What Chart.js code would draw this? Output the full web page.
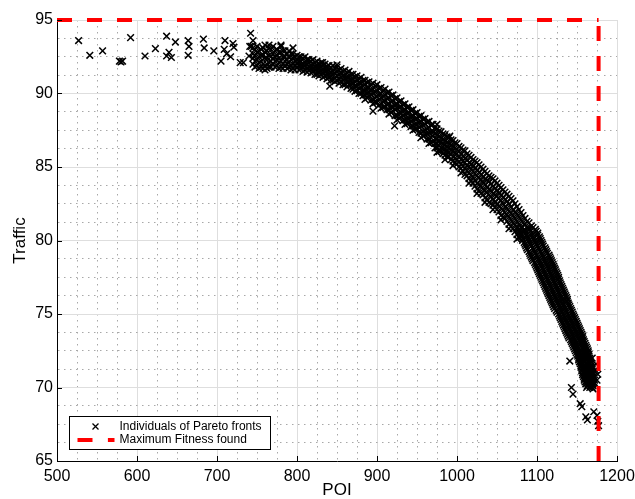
<!DOCTYPE html>
<html>
<head>
<meta charset="utf-8">
<script src="https://cdn.jsdelivr.net/npm/chart.js@4.4.1/dist/chart.umd.min.js"></script>
<style>
  html, body { margin: 0; padding: 0; background: #fff; }
  #chart { display: block; }
</style>
</head>
<body>
<canvas id="chart" width="635" height="499"></canvas>
<script>
// Scattered individuals on the far left of the front [POI, Traffic]
const sparsePoints = [
  [527, 93.6], [541, 92.6], [557, 92.9], [578, 92.2], [580, 92.15], [582, 92.2],
  [592, 93.8], [610, 92.55], [623, 93.05], [637, 93.9], [648, 93.5], [637, 92.55],
  [640, 92.8], [643, 92.45], [664, 93.6], [665, 93.2], [664, 92.6], [683, 93.7],
  [684, 93.1], [696, 92.9], [710, 93.6], [709, 93.0], [712, 92.7], [717, 92.5],
  [705, 92.2], [720, 93.4], [721, 93.15], [729, 92.1], [742, 94.1], [741, 93.2],
  [740, 92.55], [733, 92.1], [745, 93.6], [743, 93.2], [760, 91.6]
];

// Dense part of the front, read column by column: [POI, [Traffic...]]
const frontColumns = [
  [745, [93.1, 92.7, 92.4, 92.0]], [747.5, [93.0, 92.6, 92.2, 91.8]],
  [750, [93.2, 92.8, 92.3, 91.9]], [752.5, [92.9, 92.5, 92.1, 91.7]],
  [755, [93.0, 92.6, 92.2, 91.8]], [757.5, [93.1, 92.6, 92.0, 91.7]],
  [760, [93.3, 92.8, 92.4, 91.9]], [762.5, [92.9, 92.4, 92.0, 91.7]],
  [765, [93.1, 92.6, 92.1, 91.8]], [767.5, [93.0, 92.5, 92.2, 91.8]],
  [770, [93.2, 92.7, 92.4, 92.0]], [772.5, [92.9, 92.5, 92.2, 91.8]],
  [775, [93.0, 92.6, 92.3, 91.9]], [777.5, [92.8, 92.4, 92.1, 91.7]],
  [780, [93.2, 92.8, 92.2, 91.8]], [782.5, [92.9, 92.5, 92.0, 91.7]],
  [785, [92.9, 92.5, 92.2, 91.9]], [787.5, [92.7, 92.3, 92.0, 91.7]],
  [790, [92.9, 92.5, 92.1, 91.8]], [792.5, [92.7, 92.3, 91.9, 91.6]],
  [795, [92.7, 92.4, 92.0, 91.7]], [797.5, [92.5, 92.2, 91.9, 91.6]],
  [800, [92.6, 92.3, 92.1, 91.8]], [802.5, [92.5, 92.15, 91.9, 91.6]],
  [805, [92.5, 92.2, 91.9, 91.7]], [807.5, [92.4, 92.0, 91.8, 91.5]],
  [810, [92.5, 92.1, 91.9, 91.6]], [812.5, [92.3, 92.0, 91.7, 91.45]],
  [815, [92.3, 92.1, 91.8, 91.6]], [817.5, [92.2, 91.9, 91.7, 91.4]],
  [820, [92.3, 92.0, 91.7, 91.5]], [822.5, [92.1, 91.85, 91.6, 91.3]],
  [825, [92.2, 91.9, 91.7, 91.3]], [827.5, [92.0, 91.75, 91.45, 91.2]],
  [830, [92.1, 91.8, 91.5, 91.3]], [832.5, [91.95, 91.65, 91.4, 91.1]],
  [835, [92.0, 91.7, 91.5, 91.2]], [837.5, [91.85, 91.55, 91.3, 91.0]],
  [840, [91.9, 91.6, 91.3, 91.1]], [842.5, [91.75, 91.45, 91.2, 90.9]],
  [845, [91.9, 91.5, 91.3, 90.9]], [847.5, [91.7, 91.4, 91.05, 90.8]],
  [850, [91.8, 91.5, 91.2, 90.9]], [852.5, [91.6, 91.3, 91.0, 90.7]],
  [855, [91.7, 91.4, 91.1, 90.8]], [857.5, [91.5, 91.2, 90.9, 90.6]],
  [860, [91.6, 91.2, 91.0, 90.6]], [862.5, [91.4, 91.1, 90.8, 90.45]],
  [865, [91.5, 91.1, 90.8, 90.6]], [867.5, [91.3, 90.95, 90.6, 90.35]],
  [870, [91.3, 91.0, 90.7, 90.3]], [872.5, [91.15, 90.8, 90.5, 90.15]],
  [875, [91.2, 90.9, 90.5, 90.2]], [877.5, [91.0, 90.7, 90.35, 90.0]],
  [880, [91.1, 90.7, 90.4, 90.0]], [882.5, [90.9, 90.5, 90.2, 89.85]],
  [885, [90.9, 90.6, 90.2, 89.9]], [887.5, [90.75, 90.4, 90.05, 89.7]],
  [890, [90.8, 90.4, 90.1, 89.8]], [892.5, [90.6, 90.25, 89.9, 89.55]],
  [895, [90.7, 90.3, 90.0, 89.6]], [897.5, [90.5, 90.1, 89.7, 89.4]],
  [900, [90.6, 90.2, 89.8, 89.4]], [902.5, [90.35, 89.95, 89.6, 89.2]],
  [905, [90.4, 90.0, 89.7, 89.3]], [907.5, [90.2, 89.8, 89.45, 89.05]],
  [910, [90.3, 89.9, 89.5, 89.1]], [912.5, [90.05, 89.65, 89.25, 88.9]],
  [915, [90.1, 89.7, 89.3, 88.9]], [917.5, [89.85, 89.45, 89.1, 88.7]],
  [920, [89.9, 89.5, 89.1, 88.8]], [922.5, [89.65, 89.25, 88.9, 88.5]],
  [925, [89.7, 89.3, 89.0, 88.5]], [927.5, [89.45, 89.05, 88.7, 88.3]],
  [930, [89.5, 89.1, 88.7, 88.4]], [932.5, [89.25, 88.85, 88.5, 88.15]],
  [935, [89.3, 88.9, 88.6, 88.2]], [937.5, [89.05, 88.65, 88.3, 87.95]],
  [940, [89.1, 88.7, 88.3, 88.0]], [942.5, [88.85, 88.45, 88.1, 87.75]],
  [945, [88.9, 88.5, 88.2, 87.8]], [947.5, [88.65, 88.25, 87.9, 87.55]],
  [950, [88.7, 88.3, 87.9, 87.6]], [952.5, [88.45, 88.05, 87.7, 87.35]],
  [955, [88.5, 88.1, 87.8, 87.3]], [957.5, [88.25, 87.85, 87.45, 87.1]],
  [960, [88.3, 87.9, 87.5, 87.2]], [962.5, [88.05, 87.6, 87.25, 86.9]],
  [965, [88.1, 87.7, 87.3, 86.9]], [967.5, [87.85, 87.4, 87.0, 86.65]],
  [970, [87.9, 87.4, 87.1, 86.7]], [972.5, [87.65, 87.3, 86.95, 86.6, 86.3]],
  [975, [87.6, 87.2, 86.9, 86.6, 86.3]], [977.5, [87.45, 87.1, 86.75, 86.45, 86.05]],
  [980, [87.4, 87.0, 86.7, 86.3, 86.1]], [982.5, [87.25, 86.9, 86.55, 86.2, 85.9]],
  [985, [87.2, 86.8, 86.5, 86.2, 85.8]], [987.5, [87.05, 86.7, 86.35, 86.05, 85.7]],
  [990, [87.0, 86.6, 86.3, 86.0, 85.7]], [992.5, [86.85, 86.5, 86.15, 85.85, 85.5]],
  [995, [86.8, 86.4, 86.1, 85.7, 85.4]], [997.5, [86.65, 86.3, 85.95, 85.6, 85.3]],
  [1000, [86.6, 86.2, 85.9, 85.5, 85.2]], [1002.5, [86.4, 86.05, 85.7, 85.35, 85.0]],
  [1005, [86.3, 85.9, 85.5, 85.2, 84.9]], [1007.5, [86.15, 85.75, 85.4, 85.05, 84.7]],
  [1010, [86.1, 85.6, 85.3, 84.9, 84.5]], [1012.5, [85.9, 85.5, 85.1, 84.75, 84.4]],
  [1015, [85.8, 85.3, 85.0, 84.6, 84.2]], [1017.5, [85.65, 85.2, 84.85, 84.45, 84.05]],
  [1020, [85.5, 85.1, 84.7, 84.3, 83.9]], [1022.5, [85.4, 84.95, 84.55, 84.1, 83.7]],
  [1025, [85.3, 84.8, 84.4, 83.9, 83.5]], [1027.5, [85.15, 84.65, 84.25, 83.8, 83.4]],
  [1030, [85.0, 84.5, 84.1, 83.7, 83.2]], [1032.5, [84.85, 84.35, 83.95, 83.5, 83.1]],
  [1035, [84.7, 84.2, 83.8, 83.4, 82.9]], [1037.5, [84.55, 84.1, 83.65, 83.25, 82.8]],
  [1040, [84.4, 84.0, 83.5, 83.1, 82.6]], [1042.5, [84.3, 83.85, 83.4, 82.95, 82.5]],
  [1045, [84.2, 83.7, 83.2, 82.8, 82.4]], [1047.5, [84.05, 83.55, 83.1, 82.65, 82.25]],
  [1050, [83.9, 83.4, 83.0, 82.5, 82.1]], [1052.5, [83.75, 83.25, 82.85, 82.35, 81.95]],
  [1055, [83.6, 83.1, 82.7, 82.2, 81.7]], [1057.5, [83.45, 82.95, 82.5, 82.05, 81.6]],
  [1060, [83.3, 82.8, 82.3, 81.9, 81.5]], [1062.5, [83.15, 82.65, 82.2, 81.75, 81.3]],
  [1065, [83.0, 82.5, 82.0, 81.6, 81.1]], [1067.5, [82.85, 82.3, 81.85, 81.4, 80.95]],
  [1070, [82.7, 82.1, 81.7, 81.2, 80.8]], [1072.5, [82.5, 81.95, 81.5, 81.05, 80.6]],
  [1075, [82.3, 81.8, 81.3, 80.9, 80.4]], [1077.5, [82.1, 81.6, 81.1, 80.65, 80.2]],
  [1080, [81.9, 81.4, 80.9, 80.4]], [1082.5, [81.7, 81.2, 80.6]],
  [1085, [81.5, 81.1, 80.7]], [1087.5, [81.3, 80.9]],
  [1090, [81.2, 80.8]], [1093, [81.0]]
];

// Lower edge of the front, where the band frays downward
const lowerFringe = [
  [885, 89.6], [895, 89.3], [905, 89.0], [915, 88.6], [925, 88.2], [935, 87.9],
  [945, 87.5], [955, 87.0], [965, 86.6], [975, 86.0], [985, 85.5], [995, 85.1],
  [1005, 84.6], [1015, 83.9], [1025, 83.2], [1035, 82.6], [1045, 82.1],
  [1055, 81.4], [1065, 80.8], [1075, 80.1]
];

// Steep part of the front, read row by row: [Traffic, [POI...]]
const steepRows = [
  [80.875, [1076, 1082, 1089, 1095]], [80.75, [1077, 1084, 1091, 1098]],
  [80.625, [1078, 1085, 1092, 1099]], [80.5, [1079, 1086, 1094, 1101]],
  [80.375, [1080, 1087, 1094, 1101]], [80.25, [1081, 1088, 1095, 1103]],
  [80.125, [1082, 1089, 1096, 1104]], [80.0, [1082, 1090, 1097, 1105]],
  [79.875, [1084, 1091, 1098, 1106]], [79.75, [1085, 1092, 1099, 1107]],
  [79.625, [1086, 1093, 1100, 1108]], [79.5, [1087, 1095, 1102, 1110]],
  [79.375, [1088, 1096, 1103, 1111]], [79.25, [1090, 1097, 1104, 1112]],
  [79.125, [1091, 1098, 1106, 1113]], [79.0, [1092, 1100, 1107, 1115]],
  [78.875, [1093, 1101, 1108, 1116]], [78.75, [1094, 1102, 1109, 1117]],
  [78.625, [1095, 1103, 1110, 1118]], [78.5, [1097, 1104, 1111, 1119]],
  [78.375, [1098, 1105, 1112, 1120]], [78.25, [1099, 1106, 1113, 1121]],
  [78.125, [1100, 1107, 1114, 1122]], [78.0, [1101, 1108, 1115, 1123]],
  [77.875, [1102, 1109, 1116, 1124]], [77.75, [1103, 1110, 1117, 1125]],
  [77.625, [1104, 1111, 1118, 1126]], [77.5, [1105, 1112, 1119, 1127]],
  [77.375, [1106, 1113, 1120, 1127]], [77.25, [1107, 1114, 1121, 1128]],
  [77.125, [1108, 1115, 1122, 1129]], [77.0, [1109, 1116, 1123, 1130]],
  [76.875, [1110, 1117, 1124, 1131]], [76.75, [1111, 1118, 1125, 1132]],
  [76.625, [1112, 1119, 1126, 1133]], [76.5, [1113, 1120, 1127, 1134]],
  [76.375, [1114, 1121, 1128, 1135]], [76.25, [1115, 1122, 1129, 1136]],
  [76.125, [1116, 1123, 1130, 1137]], [76.0, [1117, 1124, 1131, 1138]],
  [75.875, [1118, 1125, 1131, 1138]], [75.75, [1119, 1126, 1132, 1139]],
  [75.625, [1120, 1127, 1133, 1140]], [75.5, [1121, 1128, 1134, 1141]],
  [75.375, [1122, 1129, 1135, 1142]], [75.25, [1124, 1130, 1136, 1143]],
  [75.125, [1125, 1131, 1137, 1144]], [75.0, [1127, 1133, 1139, 1145]],
  [74.875, [1128, 1134, 1140, 1146]], [74.75, [1129, 1135, 1141, 1147]],
  [74.625, [1130, 1136, 1142, 1148]], [74.5, [1131, 1137, 1143, 1149]],
  [74.375, [1132, 1138, 1144, 1150]], [74.25, [1133, 1139, 1145, 1151]],
  [74.125, [1134, 1140, 1146, 1152]], [74.0, [1135, 1141, 1147, 1153]],
  [73.875, [1136, 1142, 1148, 1154]], [73.75, [1137, 1143, 1149, 1155]],
  [73.625, [1138, 1144, 1150, 1156]], [73.5, [1139, 1145, 1151, 1157]],
  [73.375, [1140, 1146, 1152, 1157]], [73.25, [1142, 1147, 1153, 1158]],
  [73.125, [1143, 1148, 1154, 1159]], [73.0, [1144, 1149, 1155, 1160]],
  [72.875, [1145, 1150, 1156, 1161]], [72.75, [1146, 1151, 1157, 1162]],
  [72.625, [1147, 1152, 1158, 1163]], [72.5, [1148, 1153, 1159, 1164]],
  [72.375, [1149, 1154, 1159, 1164]], [72.25, [1150, 1155, 1160, 1165]],
  [72.125, [1151, 1156, 1160, 1165]], [72.0, [1152, 1157, 1161, 1166]],
  [71.875, [1152, 1157, 1162, 1166]], [71.75, [1153, 1158, 1163, 1167]],
  [71.625, [1154, 1158, 1163, 1167]], [71.5, [1155, 1159, 1164, 1168]],
  [71.375, [1155, 1160, 1164, 1168]], [71.25, [1156, 1160, 1165, 1169]],
  [71.125, [1156, 1161, 1165, 1169]], [71.0, [1157, 1161, 1166, 1170]],
  [70.875, [1157, 1162, 1166, 1170]], [70.75, [1158, 1162, 1167, 1171]],
  [70.625, [1159, 1163, 1167, 1171]], [70.5, [1159, 1163, 1168, 1172]],
  [70.375, [1160, 1164, 1168, 1171]], [70.25, [1161, 1164, 1167, 1170]],
  [70.125, [1163, 1167, 1170]], [70.0, [1162, 1166, 1169]]
];

// Stray individuals off the main band
const strayPoints = [
  [832, 92.1], [850, 91.95], [841, 90.5], [895, 88.8], [922, 87.8], [975, 87.9],
  [991, 87.1], [780, 93.3], [765, 93.3], [795, 93.1],
  [1141, 71.8], [1143, 70.0], [1145, 69.55], [1154, 68.9], [1156, 68.7],
  [1161, 68.0], [1163, 67.8], [1171, 68.35], [1175, 68.1], [1176, 67.7],
  [1177, 67.4], [1176, 70.9], [1169, 72.0], [1163, 72.3], [1172, 70.3],
  [1174, 71.6], [1175, 70.5], [1173, 71.2], [1170, 69.9]
];

// Maximum fitness found
const maxPoi = 1177;
const maxTraffic = 95;

const xMin = 500, xMax = 1200, yMin = 65, yMax = 95;
const seriesLabels = ['Individuals of Pareto fronts', 'Maximum Fitness found'];

const fontFamily = '"Liberation Sans", Arial, Helvetica, sans-serif';

// Flatten everything into {x, y}
const paretoData = [];
sparsePoints.forEach(([x, y]) => paretoData.push({ x, y }));
frontColumns.forEach(([x, ys]) => ys.forEach((y) => paretoData.push({ x, y })));
lowerFringe.forEach(([x, y]) => paretoData.push({ x, y }));
steepRows.forEach(([y, xs]) => xs.forEach((x) => paretoData.push({ x, y })));
strayPoints.forEach(([x, y]) => paretoData.push({ x, y }));

// Red dashed bound: along the top, then a separate run up from the bottom
const maxData = [
  { x: xMin, y: maxTraffic },
  { x: maxPoi, y: maxTraffic },
  { x: maxPoi, y: null },
  { x: maxPoi, y: yMin },
  { x: maxPoi, y: maxTraffic },
];

const isMajorX = (v) => v % 100 === 0;
const isMajorY = (v) => Math.abs(v / 5 - Math.round(v / 5)) < 1e-6;

// MATLAB-ish inward ticks plus the legend box in the lower left
const extras = {
  id: 'extras',
  afterDraw(chart) {
    const ctx = chart.ctx;
    const area = chart.chartArea;
    const xs = chart.scales.x;
    const ys = chart.scales.y;
    ctx.save();
    ctx.strokeStyle = '#000';
    ctx.lineWidth = 1;
    ctx.beginPath();
    for (let v = xMin; v <= xMax; v += 100) {
      const px = Math.round(xs.getPixelForValue(v)) + 0.5;
      ctx.moveTo(px, area.bottom);
      ctx.lineTo(px, area.bottom - 5);
    }
    for (let v = yMin; v <= yMax; v += 5) {
      const py = Math.round(ys.getPixelForValue(v)) + 0.5;
      ctx.moveTo(area.left, py);
      ctx.lineTo(area.left + 5, py);
    }
    ctx.stroke();

    // legend
    const bx = area.left + 12.5, by = area.bottom - 44.5, bw = 201, bh = 33;
    ctx.fillStyle = '#fff';
    ctx.fillRect(bx, by, bw, bh);
    ctx.strokeRect(bx, by, bw, bh);

    const mx = bx + 26, my = by + 10;
    ctx.lineWidth = 1.3;
    ctx.beginPath();
    ctx.moveTo(mx - 3, my - 3); ctx.lineTo(mx + 3, my + 3);
    ctx.moveTo(mx + 3, my - 3); ctx.lineTo(mx - 3, my + 3);
    ctx.stroke();

    ctx.strokeStyle = '#ff0000';
    ctx.lineWidth = 4;
    ctx.setLineDash([15, 15.4]);
    ctx.beginPath();
    ctx.moveTo(bx + 8, by + 23.5);
    ctx.lineTo(bx + 45, by + 23.5);
    ctx.stroke();
    ctx.setLineDash([]);

    ctx.fillStyle = '#000';
    ctx.font = '12px ' + fontFamily;
    ctx.textBaseline = 'middle';
    ctx.fillText(seriesLabels[0], bx + 50, my);
    ctx.fillText(seriesLabels[1], bx + 50, by + 23);
    ctx.restore();
  }
};

new Chart(document.getElementById('chart'), {
  type: 'scatter',
  data: {
    datasets: [
      {
        label: seriesLabels[1],
        data: maxData,
        showLine: true,
        spanGaps: false,
        borderColor: '#ff0000',
        borderWidth: 4,
        borderDash: [15, 15],
        pointRadius: 0,
        fill: false,
        clip: false,
      },
      {
        label: seriesLabels[0],
        data: paretoData,
        pointStyle: 'crossRot',
        pointRadius: 4.7,
        pointBorderWidth: 1.5,
        borderColor: '#000',
        backgroundColor: '#000',
      },
    ],
  },
  options: {
    responsive: false,
    animation: false,
    devicePixelRatio: 1,
    layout: { padding: { top: 20, right: 18, left: 0, bottom: 0 } },
    plugins: {
      legend: { display: false },
      tooltip: { enabled: false },
    },
    scales: {
      x: {
        type: 'linear',
        min: xMin,
        max: xMax,
        afterFit: (s) => {
          s.height = 38;
          s.paddingLeft = 0;
          s.paddingRight = 0;
        },
        ticks: {
          stepSize: 25,
          autoSkip: false,
          maxRotation: 0,
          padding: 6,
          color: '#000',
          font: { family: fontFamily, size: 16 },
          callback: (v) => (isMajorX(v) ? v : ''),
        },
        grid: {
          drawTicks: false,
          lineWidth: 1,
          color: (c) => (c.tick && isMajorX(c.tick.value) ? '#dedede' : '#a8a8a8'),
        },
        border: {
          color: '#000',
          width: 1,
          dash: (c) => (c.tick && !isMajorX(c.tick.value) ? [1.5, 4.5] : []),
        },
        title: {
          display: true,
          text: 'POI',
          color: '#000',
          font: { family: fontFamily, size: 17, lineHeight: 1 },
          padding: 0,
        },
      },
      y: {
        type: 'linear',
        min: yMin,
        max: yMax,
        afterFit: (s) => {
          s.width = 57;
          s.paddingTop = 0;
          s.paddingBottom = 0;
        },
        ticks: {
          stepSize: 1.25,
          autoSkip: false,
          padding: 4,
          color: '#000',
          font: { family: fontFamily, size: 16 },
          callback: (v) => (isMajorY(v) ? v : ''),
        },
        grid: {
          drawTicks: false,
          lineWidth: 1,
          color: (c) => (c.tick && isMajorY(c.tick.value) ? '#dedede' : '#a8a8a8'),
        },
        border: {
          color: '#000',
          width: 1,
          dash: (c) => (c.tick && !isMajorY(c.tick.value) ? [1.5, 4.5] : []),
        },
        title: {
          display: true,
          text: 'Traffic',
          color: '#000',
          font: { family: fontFamily, size: 17 },
          padding: { top: 10, bottom: 0 },
        },
      },
    },
  },
  plugins: [extras],
});
</script>
</body>
</html>
